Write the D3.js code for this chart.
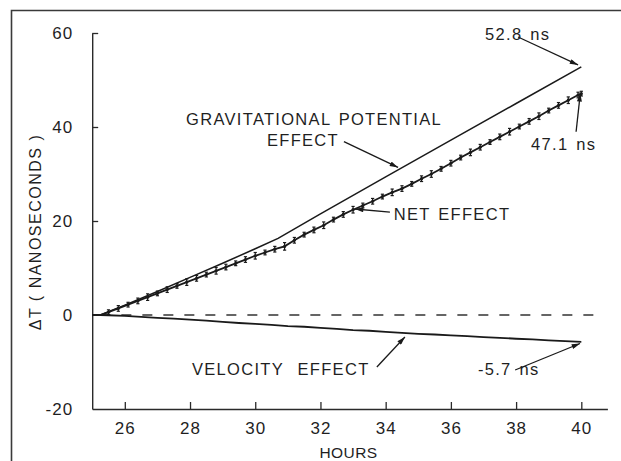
<!DOCTYPE html>
<html>
<head>
<meta charset="utf-8">
<script src="https://cdn.jsdelivr.net/npm/d3@7"></script>
<style>
  html, body { margin: 0; padding: 0; background: #fff; }
  svg { display: block; }
  text { font-family: "Liberation Sans", Arial, sans-serif; fill: #1f1f1f; }
</style>
</head>
<body>
<svg id="chart" width="621" height="461"></svg>
<script>
// ---------- DATA ----------
const xTickValues = [26, 28, 30, 32, 34, 36, 38, 40];
const yTickValues = [-20, 0, 20, 40, 60];

// Gravitational potential effect (hours, ns)
const gravHours  = [25.0, 25.25, 26, 27, 28, 29, 30, 30.7, 32, 34, 36, 38, 40];
const gravValues = [0, 0, 2.1, 5.0, 8.0, 11.0, 14.1, 16.3, 21.5, 29.4, 37.2, 45.0, 52.8];

// Velocity effect (hours, ns)
const velHours  = [25.0, 25.25, 25.5, 26, 26.5, 27, 27.5, 28, 28.5, 29, 29.5, 30, 30.5, 31, 31.5, 32, 32.5, 33, 33.5, 34, 34.5, 35, 35.5, 36, 36.5, 37, 37.5, 38, 38.5, 39, 39.5, 40];
const velValues = [0, 0, -0.05, -0.2, -0.4, -0.6, -0.75, -1.0, -1.2, -1.45, -1.7, -1.9, -2.1, -2.35, -2.5, -2.75, -2.95, -3.2, -3.35, -3.6, -3.8, -4.0, -4.15, -4.35, -4.5, -4.7, -4.85, -5.05, -5.2, -5.4, -5.55, -5.7];

// Net effect measurements (hours, ns) with error half-widths (ns)
const netHours  = [25.5, 25.8, 26.1, 26.4, 26.7, 27.0, 27.3, 27.6, 27.9, 28.2, 28.5, 28.8, 29.1, 29.4, 29.7, 30.0, 30.3, 30.6, 30.9, 31.2, 31.5, 31.8, 32.1, 32.4, 32.7, 33.0, 33.3, 33.6, 33.9, 34.2, 34.5, 34.8, 35.1, 35.4, 35.7, 36.0, 36.3, 36.6, 36.9, 37.2, 37.5, 37.8, 38.1, 38.4, 38.7, 39.0, 39.3, 39.6, 39.9, 40.0];
const netValues = [0.6, 1.4, 2.2, 3.0, 3.8, 4.6, 5.4, 6.2, 7.0, 7.8, 8.6, 9.4, 10.2, 11.0, 11.8, 12.6, 13.3, 14.0, 14.6, 15.9, 17.1, 18.1, 19.1, 20.3, 21.4, 22.4, 23.3, 24.2, 25.2, 26.1, 26.9, 27.9, 29.0, 30.0, 31.1, 32.3, 33.5, 34.6, 35.7, 36.8, 37.9, 39.0, 40.1, 41.2, 42.3, 43.5, 44.6, 45.7, 46.8, 47.1];
const netErrors = [0.5, 0.6, 0.5, 0.6, 0.7, 0.5, 0.6, 0.5, 0.7, 0.6, 0.5, 0.7, 0.6, 0.5, 0.6, 0.7, 0.5, 0.6, 0.8, 0.6, 0.5, 0.6, 0.7, 0.5, 0.6, 0.7, 0.5, 0.6, 0.5, 0.7, 0.6, 0.5, 0.6, 0.7, 0.5, 0.6, 0.5, 0.7, 0.6, 0.5, 0.6, 0.7, 0.5, 0.6, 0.7, 0.5, 0.6, 0.7, 0.6, 0.5];

// Zero reference (dashed)
const zeroHours = [25.25, 40.6];

// Annotations (text, hour, ns)
const labelTexts  = ["GRAVITATIONAL POTENTIAL", "EFFECT", "NET EFFECT", "52.8 ns", "47.1 ns", "VELOCITY EFFECT", "-5.7 ns"];
const labelHours  = [27.88, 30.36, 34.25, 37.05, 38.46, 28.06, 36.83];
const labelValues = [40.4, 35.96, 20.2, 58.5, 35.1, -12.8, -12.8];

// Annotation arrows: from (hour, ns) to (hour, ns)
const arrowFromH = [32.72, 34.13, 38.06, 39.84, 33.73, 37.97];
const arrowFromV = [36.9, 21.9, 59.15, 39.0, -11.06, -11.7];
const arrowToH   = [34.38, 33.06, 39.9, 39.97, 34.59, 39.96];
const arrowToV   = [31.4, 22.55, 53.2, 47.2, -4.68, -6.06];

// ---------- CHART ----------
const svg = d3.select("#chart");
const x = d3.scaleLinear().domain([25, 40.8]).range([92.2, 607.4]);
const y = d3.scaleLinear().domain([-20, 60]).range([409, 33]);

const ink = "#1a1a1a";

// frame
svg.append("path")
  .attr("d", "M11.5,461 V10.5 H621")
  .attr("fill", "none").attr("stroke", "#3a3a3a").attr("stroke-width", 1.6);

// arrowhead marker
svg.append("defs").append("marker")
  .attr("id", "arrow").attr("viewBox", "0 0 10 6")
  .attr("refX", 10).attr("refY", 3)
  .attr("markerWidth", 10).attr("markerHeight", 5)
  .attr("markerUnits", "userSpaceOnUse")
  .attr("orient", "auto")
  .append("path").attr("d", "M0,0 L10,3 L0,6 Z").attr("fill", ink);

// axes
const xAxis = d3.axisBottom(x).tickValues(xTickValues).tickSizeInner(-7).tickSizeOuter(0).tickPadding(13).tickFormat(d3.format("d"));
const yAxis = d3.axisLeft(y).tickValues(yTickValues).tickSizeInner(-6).tickSizeOuter(0).tickPadding(19).tickFormat(d => (d < 0 ? "-" + Math.abs(d) : String(d)));

const gx = svg.append("g").attr("transform", `translate(0,${y(-20)})`).call(xAxis);
const gy = svg.append("g").attr("transform", `translate(${x(25)},0)`).call(yAxis);
[gx, gy].forEach(g => {
  g.select(".domain").attr("stroke", "#2a2a2a").attr("stroke-width", 1.4);
  g.selectAll(".tick line").attr("stroke", "#2a2a2a").attr("stroke-width", 1.3);
  g.selectAll(".tick text").attr("font-size", 17).attr("letter-spacing", 1)
    .attr("font-family", "'Liberation Sans', Arial, sans-serif").attr("fill", "#262626");
});
gy.selectAll(".tick").filter(d => d === 0 || d === -20).select("line").remove();

// axis titles
svg.append("text")
  .attr("x", x(32.86)).attr("y", 458)
  .attr("text-anchor", "middle").attr("font-size", 15.5).attr("letter-spacing", 0.4)
  .text("HOURS");
svg.append("text")
  .attr("transform", "translate(41,232) rotate(-90)")
  .attr("text-anchor", "middle").attr("font-size", 16).attr("letter-spacing", 1.5)
  .text("ΔT ( NANOSECONDS )");

// dashed zero line
svg.append("line")
  .attr("x1", x(zeroHours[0])).attr("x2", x(zeroHours[1]))
  .attr("y1", y(0)).attr("y2", y(0))
  .attr("stroke", "#333").attr("stroke-width", 1.4).attr("stroke-dasharray", "10,11");

const line = d3.line().x(d => x(d[0])).y(d => y(d[1]));

// gravitational line
svg.append("path")
  .datum(gravHours.map((h, i) => [h, gravValues[i]]))
  .attr("d", line).attr("fill", "none").attr("stroke", ink).attr("stroke-width", 1.5);

// velocity line
svg.append("path")
  .datum(velHours.map((h, i) => [h, velValues[i]]))
  .attr("d", line).attr("fill", "none").attr("stroke", ink).attr("stroke-width", 1.8);

// net line
const netPts = [[25.0, 0], [25.25, 0]].concat(netHours.map((h, i) => [h, netValues[i]]));
svg.append("path")
  .datum(netPts)
  .attr("d", line).attr("fill", "none").attr("stroke", ink).attr("stroke-width", 1.8);

// net error bars
const eb = svg.append("g").attr("stroke", ink).attr("stroke-width", 1.2);
netHours.forEach((h, i) => {
  const cx = x(h), y1 = y(netValues[i] + netErrors[i]), y2 = y(netValues[i] - netErrors[i]);
  eb.append("line").attr("x1", cx).attr("x2", cx).attr("y1", y1).attr("y2", y2);
  eb.append("line").attr("x1", cx - 1.6).attr("x2", cx + 1.6).attr("y1", y1).attr("y2", y1);
  eb.append("line").attr("x1", cx - 1.6).attr("x2", cx + 1.6).attr("y1", y2).attr("y2", y2);
});
svg.append("g").selectAll("circle")
  .data(netHours.map((h, i) => [h, netValues[i]]))
  .join("circle")
  .attr("cx", d => x(d[0])).attr("cy", d => y(d[1])).attr("r", 1.6).attr("fill", ink);

// annotations
labelTexts.forEach((t, i) => {
  svg.append("text")
    .attr("x", x(labelHours[i])).attr("y", y(labelValues[i]))
    .attr("font-size", 16.5).attr("letter-spacing", 1.3)
    .attr("word-spacing", t === "VELOCITY EFFECT" ? 8 : 2)
    .text(t);
});
arrowFromH.forEach((h, i) => {
  svg.append("line")
    .attr("x1", x(h)).attr("y1", y(arrowFromV[i]))
    .attr("x2", x(arrowToH[i])).attr("y2", y(arrowToV[i]))
    .attr("stroke", ink).attr("stroke-width", 1.3)
    .attr("marker-end", "url(#arrow)");
});
</script>
</body>
</html>
